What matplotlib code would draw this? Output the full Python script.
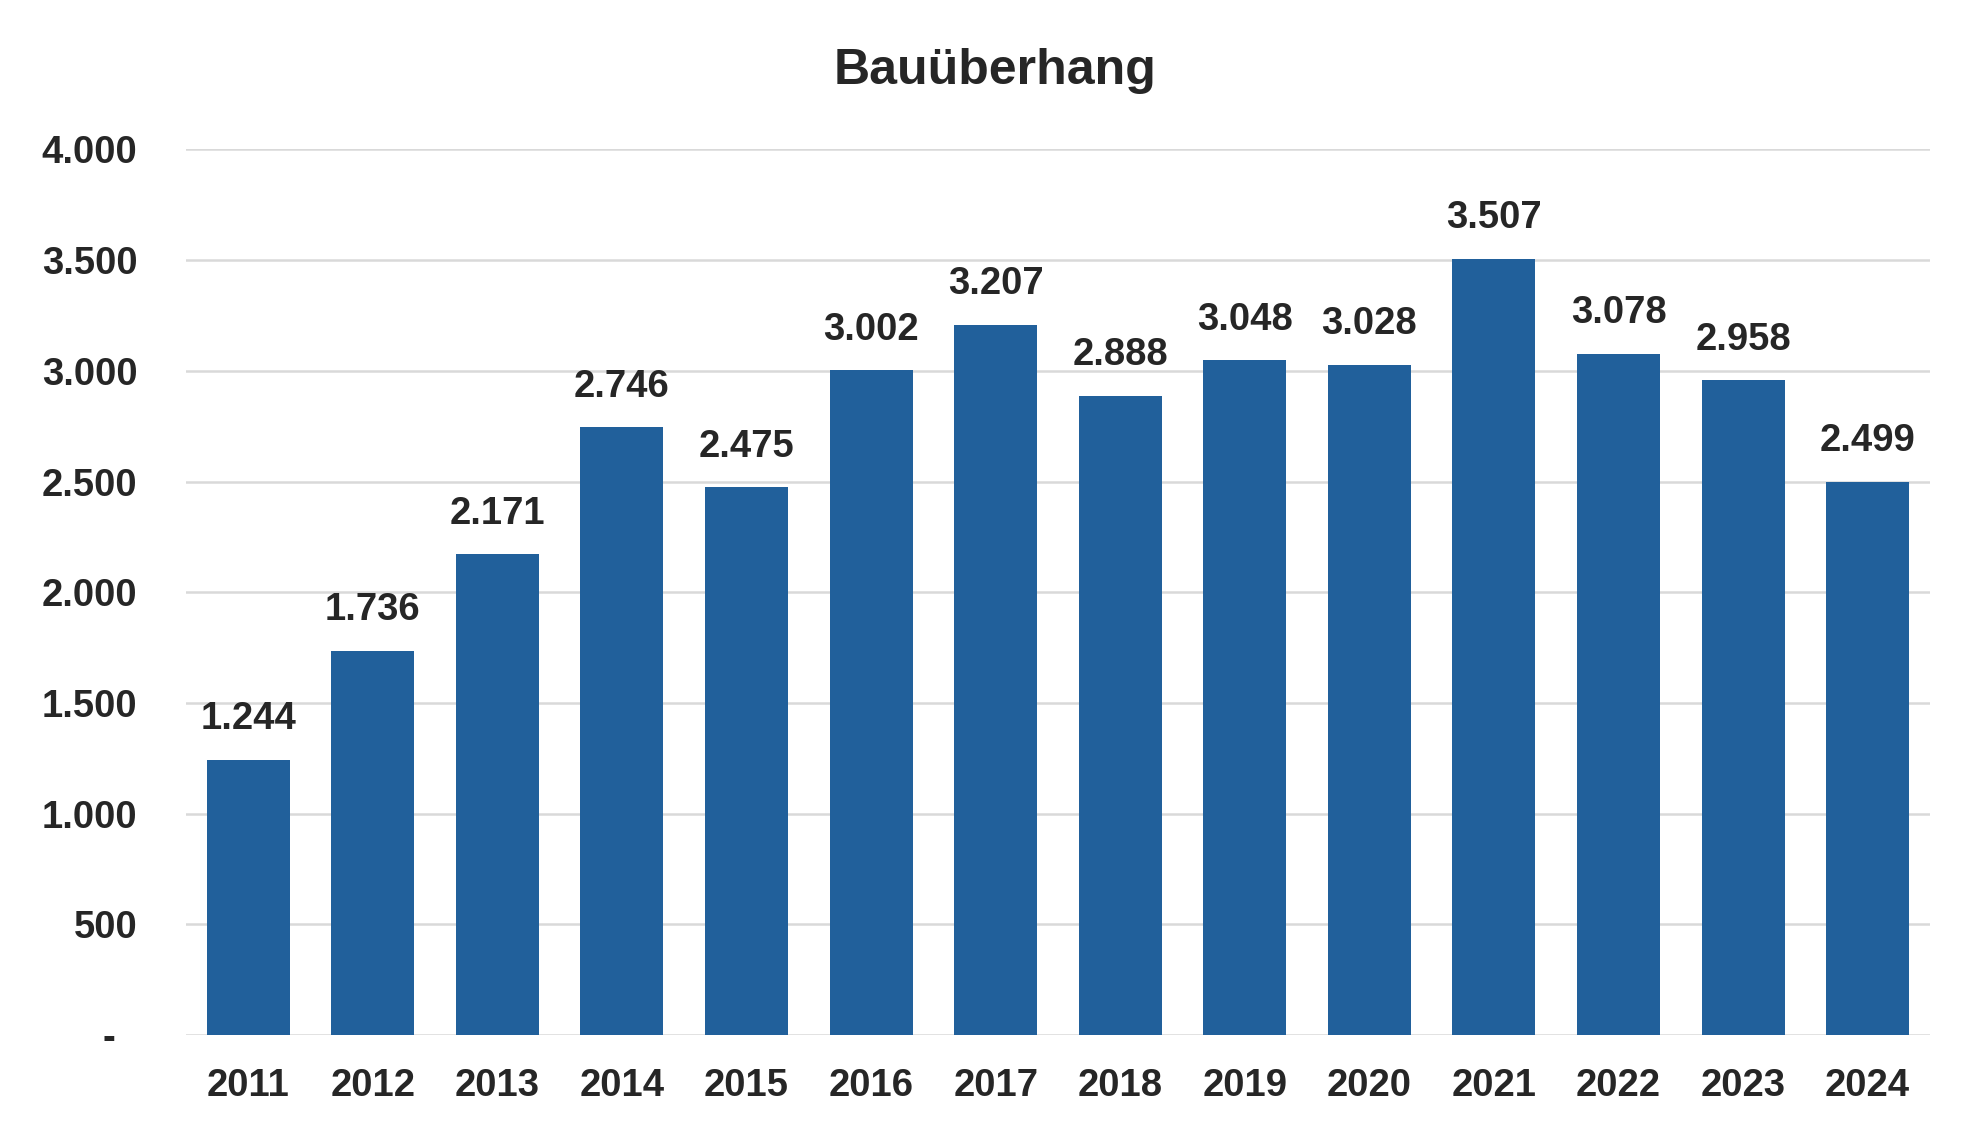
import matplotlib
matplotlib.use("Agg")
import matplotlib.pyplot as plt

years = ["2011", "2012", "2013", "2014", "2015", "2016", "2017",
         "2018", "2019", "2020", "2021", "2022", "2023", "2024"]
values = [1244, 1736, 2171, 2746, 2475, 3002, 3207,
          2888, 3048, 3028, 3507, 3078, 2958, 2499]
yticks = [0, 500, 1000, 1500, 2000, 2500, 3000, 3500, 4000]
ytick_labels = ["-  ", "500", "1.000", "1.500", "2.000", "2.500", "3.000", "3.500", "4.000"]
title = "Bauüberhang"

plt.rcParams['font.family'] = ['Liberation Sans', 'DejaVu Sans']
txt = "#262626"
bar_color = "#21609B"
grid_color = "#D9D9D9"

fig = plt.figure(figsize=(19.8, 11.41), dpi=100)
ax = fig.add_axes([0.0939, 0.0929, 0.9747 - 0.0939, 0.869 - 0.0929])

x = list(range(len(years)))
ax.bar(x, values, width=0.667, color=bar_color, zorder=3)

ax.set_xlim(-0.5, len(years) - 0.5)
ax.set_ylim(0, 4000)
ax.set_yticks(yticks)
ax.set_yticklabels(ytick_labels)
ax.set_xticks(x)
ax.set_xticklabels(years)

for s in ax.spines.values():
    s.set_visible(False)
ax.yaxis.grid(True, color=grid_color, linewidth=1.8, zorder=0)
ax.set_axisbelow(True)
ax.tick_params(axis='both', length=0, labelsize=27.5, labelcolor=txt)
ax.tick_params(axis='y', pad=35)
ax.tick_params(axis='x', pad=24)
for lab in ax.get_xticklabels() + ax.get_yticklabels():
    lab.set_fontweight('bold')

for xi, v in zip(x, values):
    ax.annotate(f"{v:,}".replace(",", "."), xy=(xi, v), xytext=(0, 22),
                textcoords='offset points', ha='center', va='baseline',
                fontsize=27.5, fontweight='bold', color=txt)

fig.text(0.5026, 1 - 84 / 1141, title, ha='center', va='baseline',
         fontsize=36, fontweight='bold', color=txt)

fig.savefig("out.png", dpi=100)
